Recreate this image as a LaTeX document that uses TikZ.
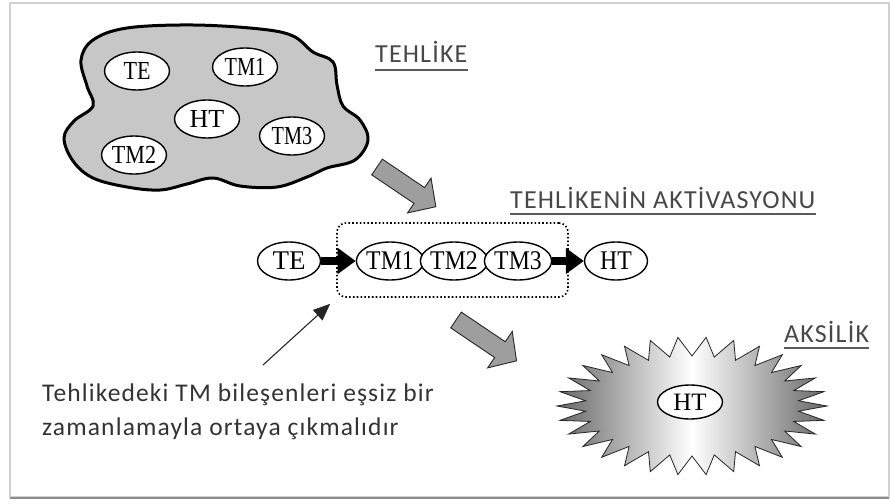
\documentclass[tikz,border=0pt]{standalone}
\usepackage{fontspec}
\usepackage{graphicx}
\setmainfont{Liberation Serif}
\newfontfamily\calib[LetterSpace=4.5]{Carlito}
\usetikzlibrary{arrows.meta,calc,shapes.geometric}
\newcommand\sqz[2]{\scalebox{#1}[1]{#2}}
\begin{document}
\begin{tikzpicture}[x=1pt,y=-1pt,
  oval/.style={ellipse, draw, line width=1.4pt, fill=white, minimum width=65pt, minimum height=38pt, inner sep=0pt, font=\fontsize{26}{26}\selectfont},
  rowoval/.style={oval, minimum width=63pt, minimum height=38pt, font=\fontsize{27}{27}\selectfont},
  title/.style={font=\calib\fontsize{26}{28}\selectfont, text=black!72, inner sep=0pt, anchor=base west},
  uline/.style={draw=black!65, line width=1.6pt},
  note/.style={font=\calib\fontsize{25.5}{34}\selectfont, text=black!80, inner sep=0pt, anchor=base west, align=left},
  bigarrow/.style={draw=black!85, line width=0.9pt, fill=black!38},
  fatarrow/.style={line width=7.5pt, -{Triangle[length=18pt,width=25pt]}},
]
\useasboundingbox (0,0) rectangle (890,503);
\fill[white] (0,0) rectangle (890,503);
% frame
\draw[black!18, line width=1.2pt] (10,3) rectangle (889,497);
\draw[black!45, line width=2pt] (10,498) -- (889,498);

% cloud
\filldraw[fill=black!22, draw=black, line width=3pt]
  plot[smooth cycle, tension=0.6] coordinates {
   (93,40) (127,28) (193,25) (260,29) (293,36) (313,52) (333,62) (337,85)
   (343,106) (360,120) (368,140) (355,160) (327,168) (307,177) (277,187)
   (240,186) (213,178) (187,184) (160,190) (127,187) (93,178) (73,161)
   (64,138) (74,121) (93,106) (87,86) (81,60)};
\node[oval] (cte) at (137,71) {\sqz{0.85}{TE}};
\node[oval] (ctm1) at (245,67) {\sqz{0.78}{TM1}};
\node[oval] (cht) at (207,119) {\sqz{1}{HT}};
\node[oval] (ctm3) at (292,136) {\sqz{0.78}{TM3}};
\node[oval] (ctm2) at (134,155) {\sqz{0.85}{TM2}};

% titles
\node[title] (t1) at (375,63) {TEHLİKE};
\draw[uline] ($(t1.base west)+(0,7)$) -- ($(t1.base east)+(0,7)$);
\node[title] (t2) at (510,208) {TEHLİKENİN AKTİVASYONU};
\draw[uline] ($(t2.base west)+(0,6)$) -- ($(t2.base east)+(0,6)$);
\node[title] (t3) at (784,342) {AKSİLİK};
\draw[uline] ($(t3.base west)+(0,6)$) -- ($(t3.base east)+(0,6)$);

% gray block arrows
\begin{scope}[shift={(377,167)}, rotate=-34]
  \filldraw[bigarrow] (0,-9.5) -- (51,-9.5) -- (51,-21) -- (71,0) -- (51,21) -- (51,9.5) -- (0,9.5) -- cycle;
\end{scope}
\begin{scope}[shift={(456,320)}, rotate=-34]
  \filldraw[bigarrow] (0,-9.5) -- (53,-9.5) -- (53,-22) -- (73,0) -- (53,22) -- (53,9.5) -- (0,9.5) -- cycle;
\end{scope}

% activation row
\node[draw, line width=1.6pt, dash pattern=on 1.6pt off 2.2pt, rounded corners=9pt,
      minimum width=231pt, minimum height=74pt] (box) at (452.5,260) {};
\node[rowoval] (te) at (289,261) {TE};
\node[rowoval] (tm1) at (390,261) {\sqz{0.88}{TM1}};
\node[rowoval] (tm2) at (454,261) {\sqz{0.88}{TM2}};
\node[rowoval] (tm3) at (518,261) {\sqz{0.88}{TM3}};
\node[rowoval] (ht) at (616,261) {\sqz{0.88}{HT}};
\draw[fatarrow] (te) -- (tm1);
\draw[fatarrow] (tm3) -- (ht);

% note and pointer
\node[note] (note) at (42,435) {Tehlikedeki TM bileşenleri eşsiz bir\\zamanlamayla ortaya çıkmalıdır};
\coordinate (ps) at (263,365);
\coordinate (pe) at ($(box.south west)+(-6,6)$);
\draw[line width=1.1pt, black!85, -{Triangle[length=17pt,width=14pt]}] (ps) -- (pe);

% accident starburst
\path[draw=black!85, line width=0.8pt, left color=black!60, right color=black!60, middle color=white]
  (827,406) \foreach \i in {1,...,59} {
    -- ({692+(mod(\i,2)==0 ? 135 : 107)*cos(\i*6)},{406+(mod(\i,2)==0 ? 69 : 50)*sin(\i*6)})
  } -- cycle;
\node[oval, minimum width=65pt, minimum height=34pt, font=\fontsize{25}{25}\selectfont] (sht) at (690,402) {HT};
\end{tikzpicture}
\end{document}
